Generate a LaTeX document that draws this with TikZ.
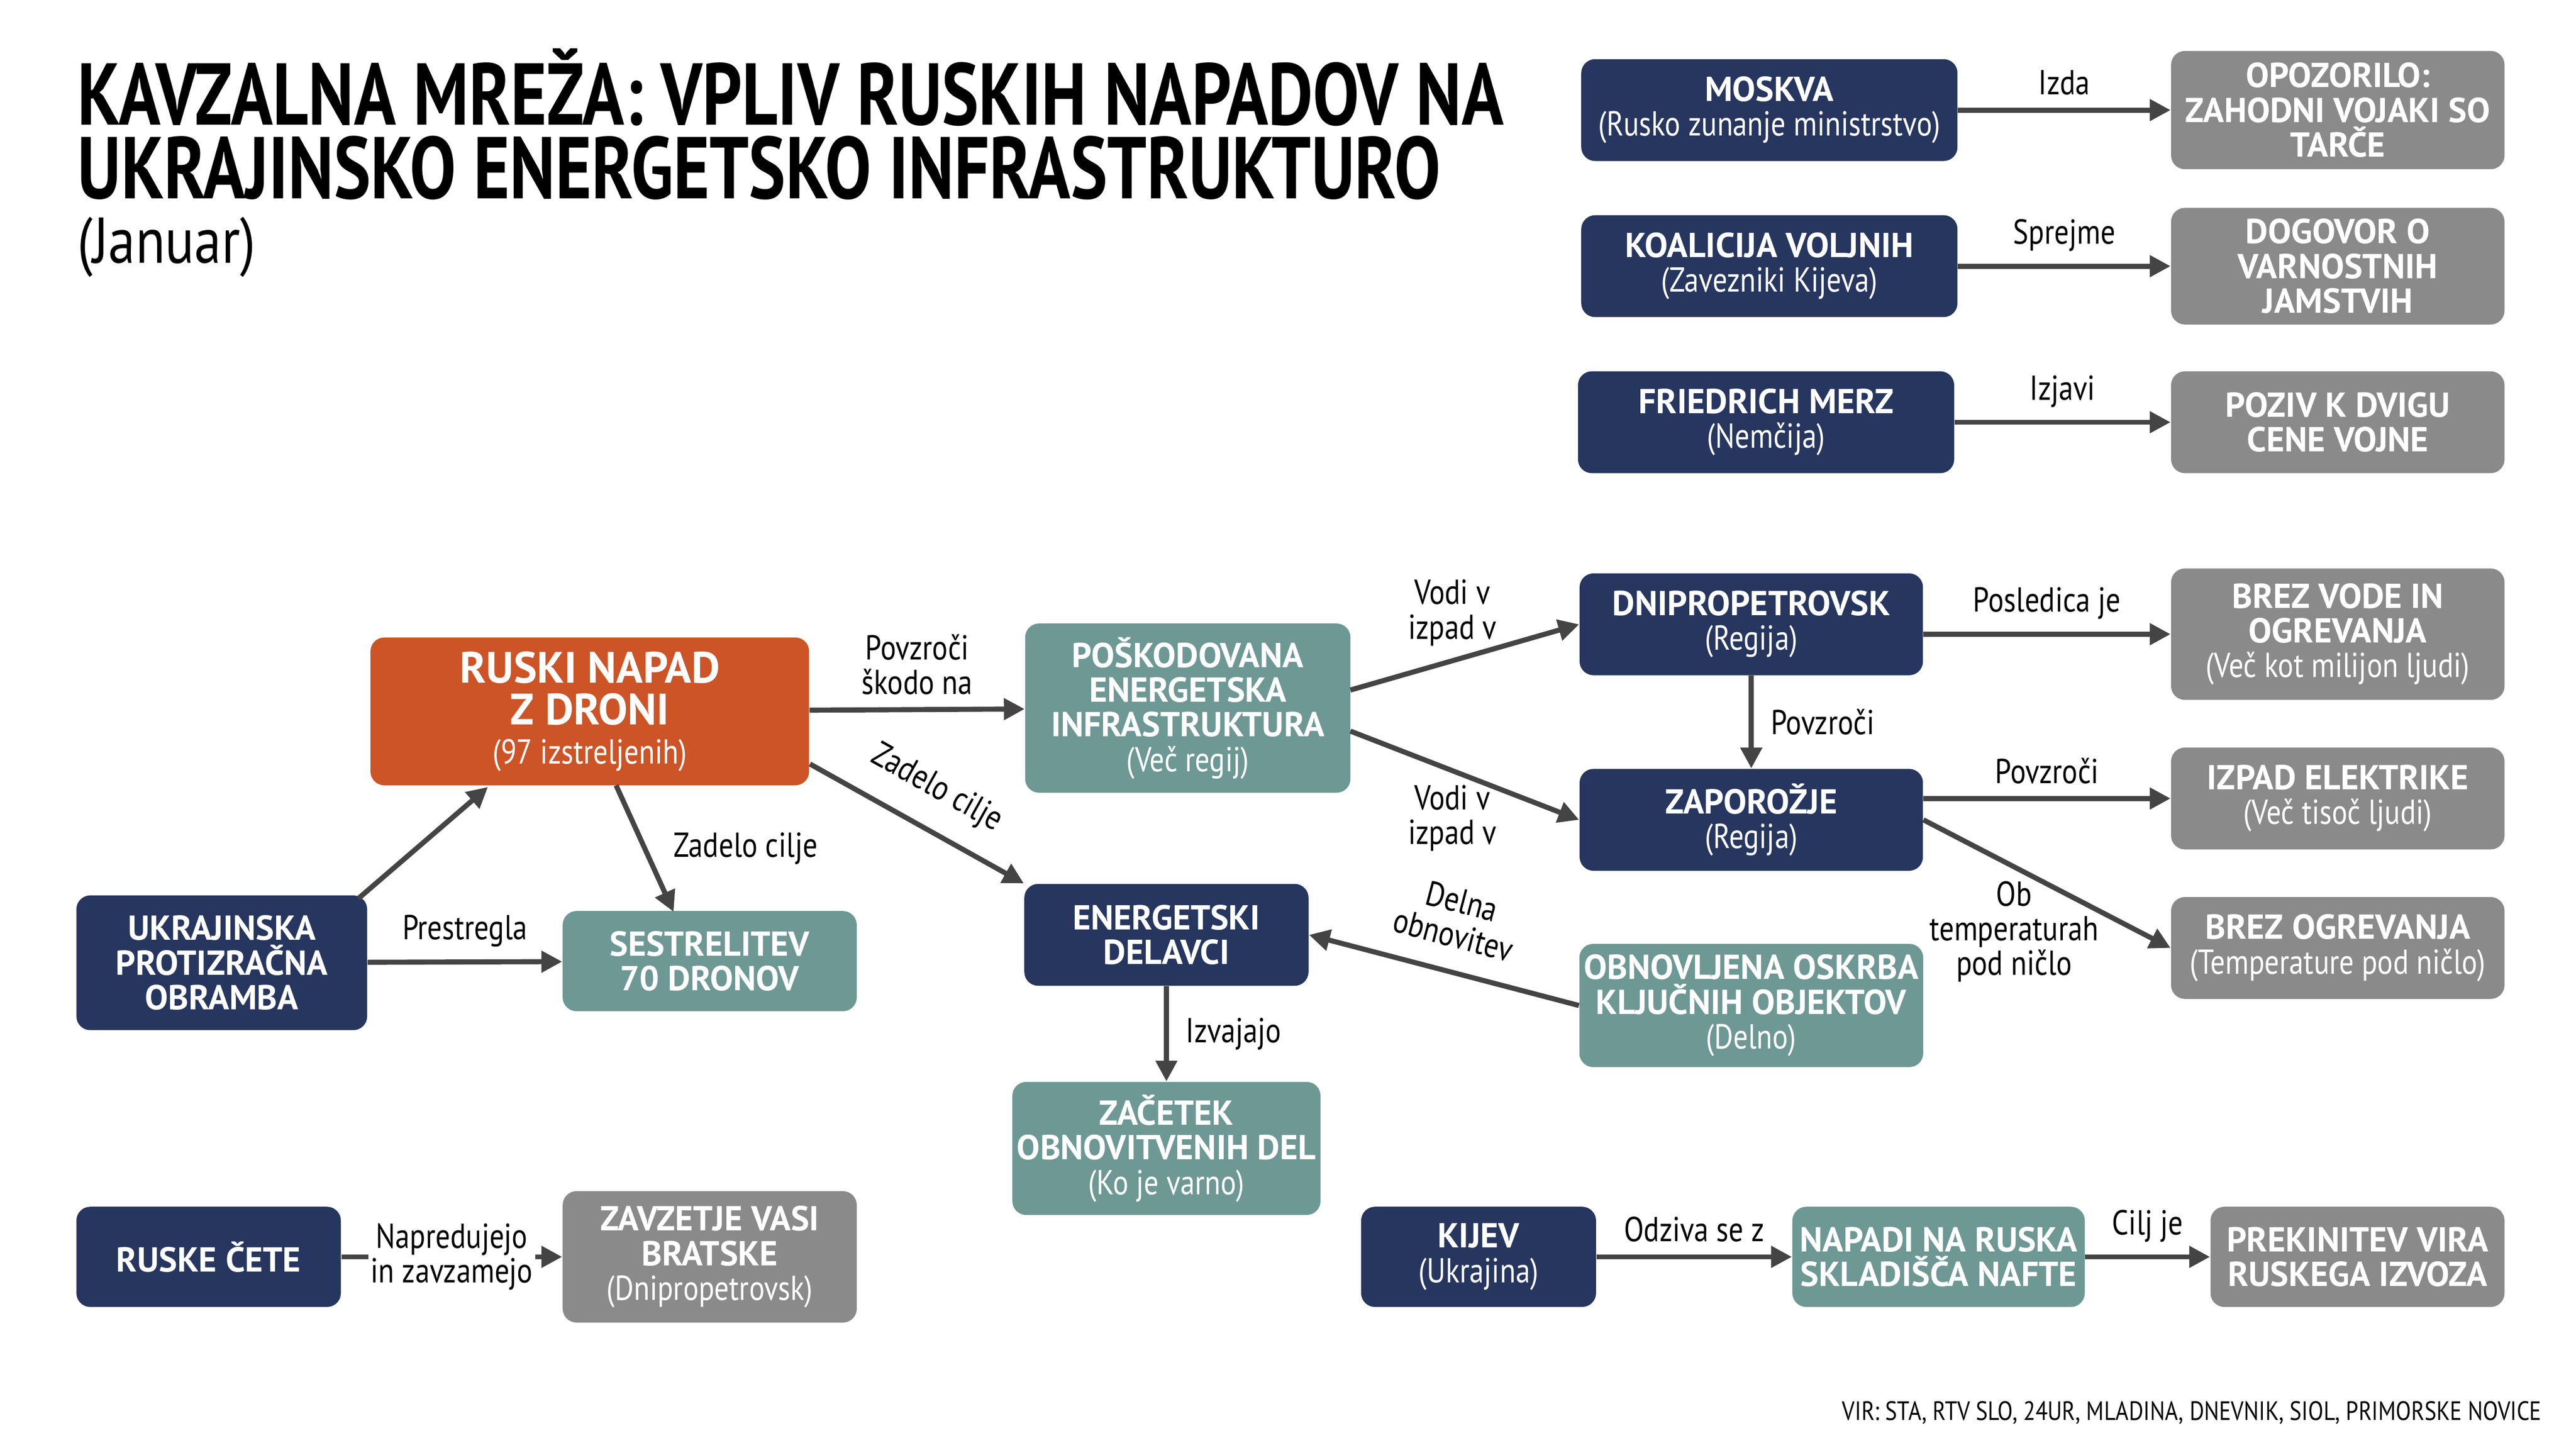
\documentclass[tikz,border=0pt]{standalone}
\usepackage{fontspec}
\setmainfont{PT Sans}[UprightFeatures={FakeStretch=0.84}]
\newfontfamily\tit{PT Sans}[FakeStretch=0.79]
\usetikzlibrary{arrows.meta}
\definecolor{navy}{HTML}{26365E}
\definecolor{orng}{HTML}{CC5427}
\definecolor{teal2}{HTML}{6E9894}
\definecolor{gry}{HTML}{8A8A8A}
\definecolor{arr}{HTML}{444444}
\begin{document}
\begin{tikzpicture}[x=0.025cm,y=-0.025cm,
  box/.style={rounded corners=6pt,text=white,align=center,inner sep=2pt,font=\fontsize{15}{15}\selectfont,minimum height=62*0.025cm},
  nv/.style={box,fill=navy},
  og/.style={box,fill=orng},
  tl/.style={box,fill=teal2},
  gr/.style={box,fill=gry},
  w/.style={minimum width=#1*0.025cm},
  h/.style={minimum height=#1*0.025cm},
  ar/.style={draw=arr,line width=2.2pt,-{Triangle[length=9pt,width=9pt]}},
  lb/.style={font=\fontsize{15}{15}\selectfont,align=center,text=black},
  tt/.style={anchor=base west,inner sep=0,font=\tit\fontsize{38}{38}\selectfont\bfseries}]
\useasboundingbox[fill=white] (0,0) rectangle (1568,875);
\node[tt] (t1) at (47,76) {KAVZALNA MREŽA: VPLIV RUSKIH NAPADOV NA};
\node[tt] (t2) at (47,121) {UKRAJINSKO ENERGETSKO INFRASTRUKTURO};
\node[anchor=base west,inner sep=0,font=\fontsize{28}{30}\selectfont] (t3) at (47,160) {(Januar)};
\node[nv,w=229] (moskva) at (1077,67) {\textbf{MOSKVA}\\(Rusko zunanje ministrstvo)};
\node[gr,w=203,h=72] (opoz) at (1423,67) {\textbf{OPOZORILO:}\\\textbf{ZAHODNI VOJAKI SO}\\\textbf{TARČE}};
\node[nv,w=229] (koal) at (1077,162) {\textbf{KOALICIJA VOLJNIH}\\(Zavezniki Kijeva)};
\node[gr,w=203,h=71] (dog) at (1423,162) {\textbf{DOGOVOR O}\\\textbf{VARNOSTNIH}\\\textbf{JAMSTVIH}};
\node[nv,w=229] (merz) at (1075,257) {\textbf{FRIEDRICH MERZ}\\(Nemčija)};
\node[gr,w=203] (poziv) at (1423,257) {\textbf{POZIV K DVIGU}\\\textbf{CENE VOJNE}};
\node[og,w=267,h=90] (napad) at (359,433) {\fontsize{19}{20}\selectfont\textbf{RUSKI NAPAD}\\[3pt]\fontsize{19}{20}\selectfont\textbf{Z DRONI}\\[2pt](97 izstreljenih)};
\node[tl,w=198,h=103] (posk) at (723,431) {\textbf{POŠKODOVANA}\\\textbf{ENERGETSKA}\\\textbf{INFRASTRUKTURA}\\(Več regij)};
\node[nv,w=209] (dnipro) at (1066,380) {\textbf{DNIPROPETROVSK}\\(Regija)};
\node[gr,w=203,h=80] (vode) at (1423,386) {\textbf{BREZ VODE IN}\\\textbf{OGREVANJA}\\(Več kot milijon ljudi)};
\node[nv,w=209] (zapo) at (1066,499) {\textbf{ZAPOROŽJE}\\(Regija)};
\node[gr,w=203] (izpad) at (1423,486) {\textbf{IZPAD ELEKTRIKE}\\(Več tisoč ljudi)};
\node[gr,w=203] (ogr) at (1423,577) {\textbf{BREZ OGREVANJA}\\(Temperature pod ničlo)};
\node[nv,w=177,h=82] (ukr) at (135,586) {\textbf{UKRAJINSKA}\\\textbf{PROTIZRAČNA}\\\textbf{OBRAMBA}};
\node[tl,w=179,h=61] (sestr) at (432,585) {\textbf{SESTRELITEV}\\\textbf{70 DRONOV}};
\node[nv,w=173] (energ) at (710,569) {\textbf{ENERGETSKI}\\\textbf{DELAVCI}};
\node[tl,w=209,h=75] (obnov) at (1066,612) {\textbf{OBNOVLJENA OSKRBA}\\\textbf{KLJUČNIH OBJEKTOV}\\(Delno)};
\node[tl,w=179,h=81] (zac) at (710,699) {\textbf{ZAČETEK}\\\textbf{OBNOVITVENIH DEL}\\(Ko je varno)};
\node[nv,w=161,h=61] (ruske) at (127,765) {\textbf{RUSKE ČETE}};
\node[gr,w=179,h=80] (zavz) at (432,765) {\textbf{ZAVZETJE VASI}\\\textbf{BRATSKE}\\(Dnipropetrovsk)};
\node[nv,w=143,h=61] (kijev) at (900,765) {\textbf{KIJEV}\\(Ukrajina)};
\node[tl,w=178,h=61] (napadi) at (1180,765) {\textbf{NAPADI NA RUSKA}\\\textbf{SKLADIŠČA NAFTE}};
\node[gr,w=179,h=61] (prek) at (1435,765) {\textbf{PREKINITEV VIRA}\\\textbf{RUSKEGA IZVOZA}};
\coordinate (pA) at (822,420); \coordinate (pB) at (822,445);
\coordinate (nA) at (493,465); \coordinate (nB) at (375,478); \coordinate (nC) at (410,555);
\coordinate (uA) at (218,547); \coordinate (uB) at (297,479);
\draw[ar] (moskva) -- (opoz) node[lb,midway,above=2pt] {Izda};
\draw[ar] (koal) -- (dog) node[lb,midway,above=2pt] {Sprejme};
\draw[ar] (merz) -- (poziv) node[lb,midway,above=2pt] {Izjavi};
\draw[ar] (napad) -- (posk) node[lb,midway,above=2pt] {Povzroči\\škodo na};
\draw[ar] (pA) -- (dnipro.west);
\node[lb] at (884,373) {Vodi v\\izpad v};
\draw[ar] (pB) -- (zapo.west);
\node[lb] at (884,498) {Vodi v\\izpad v};
\draw[ar] (dnipro) -- (zapo) node[lb,midway,right=4pt] {Povzroči};
\draw[ar] (dnipro.east|-vode) -- (vode) node[lb,midway,above=2pt] {Posledica je};
\draw[ar] (zapo.east|-izpad) -- (izpad) node[lb,midway,above=2pt] {Povzroči};
\draw[ar] (zapo.east) -- (ogr.west);
\node[lb] at (1226,567) {Ob\\temperaturah\\pod ničlo};
\draw[ar] (nA) -- (energ.north west) node[lb,midway,sloped,above=6pt] {Zadelo cilje};
\draw[ar] (nB) -- (nC) node[lb,midway,right=8pt] {Zadelo cilje};
\draw[ar] (uA) -- (uB);
\draw[ar] (ukr) -- (sestr) node[lb,midway,above=2pt] {Prestregla};
\draw[ar] (energ) -- (zac) node[lb,midway,right=4pt] {Izvajajo};
\draw[ar] (obnov.west) -- (energ.east) node[lb,midway,sloped,above=6pt] {Delna\\obnovitev};
\draw[ar] (ruske) -- (zavz) node[lb,midway,fill=white,inner sep=1pt] {Napredujejo\\in zavzamejo};
\draw[ar] (kijev) -- (napadi) node[lb,midway,above=2pt] {Odziva se z};
\draw[ar] (napadi) -- (prek) node[lb,midway,above=2pt] {Cilj je};
\node[anchor=east,font=\fontsize{11.5}{13}\selectfont] at (1552,860) {VIR: STA, RTV SLO, 24UR, MLADINA, DNEVNIK, SIOL, PRIMORSKE NOVICE};
\end{tikzpicture}
\end{document}
